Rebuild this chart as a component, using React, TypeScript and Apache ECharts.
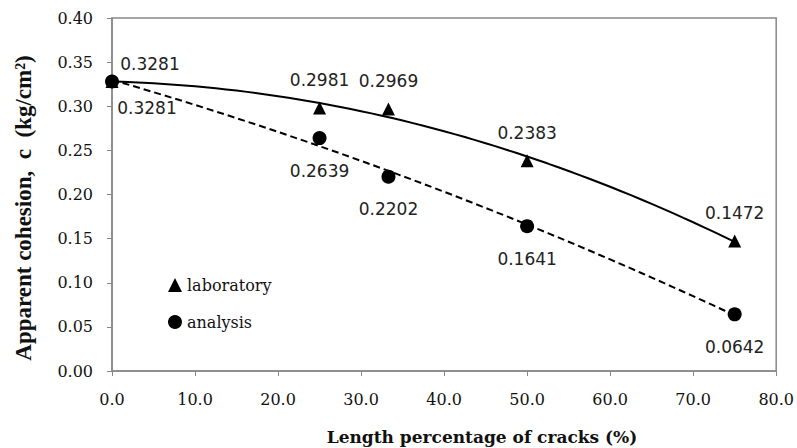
import React, { useEffect, useRef } from "react";
import * as echarts from "echarts";

const crackPct = [0, 25, 33.3, 50, 75];
const laboratory = [0.3281, 0.2981, 0.2969, 0.2383, 0.1472];
const analysis = [0.3281, 0.2639, 0.2202, 0.1641, 0.0642];
const xTicks = [0, 10, 20, 30, 40, 50, 60, 70, 80];
const yTicks = [0, 0.05, 0.1, 0.15, 0.2, 0.25, 0.3, 0.35, 0.4];
const labOffsets = [[38, 11], [0, 0], [0, 0], [0, 0], [0, 0]];
const anaOffsets = [[35, -6], [0, 0], [0, 0], [0, 0], [0, 0]];

// 2nd-order polynomial least-squares trendline (like a spreadsheet trendline)
function polyfit2(xs: number[], ys: number[]): number[] {
  const s = [0, 0, 0, 0, 0];
  const t = [0, 0, 0];
  xs.forEach((x, i) => {
    for (let k = 0; k < 5; k++) s[k] += Math.pow(x, k);
    for (let k = 0; k < 3; k++) t[k] += Math.pow(x, k) * ys[i];
  });
  const A = [
    [s[0], s[1], s[2], t[0]],
    [s[1], s[2], s[3], t[1]],
    [s[2], s[3], s[4], t[2]],
  ];
  for (let i = 0; i < 3; i++) {
    for (let j = i + 1; j < 3; j++) {
      const f = A[j][i] / A[i][i];
      for (let k = i; k < 4; k++) A[j][k] -= f * A[i][k];
    }
  }
  const c = [0, 0, 0];
  for (let i = 2; i >= 0; i--) {
    let v = A[i][3];
    for (let k = i + 1; k < 3; k++) v -= A[i][k] * c[k];
    c[i] = v / A[i][i];
  }
  return c;
}

function trend(xs: number[], ys: number[]): number[][] {
  const c = polyfit2(xs, ys);
  const x0 = xs[0];
  const x1 = xs[xs.length - 1];
  const pts: number[][] = [];
  const n = 60;
  for (let i = 0; i <= n; i++) {
    const x = x0 + ((x1 - x0) * i) / n;
    pts.push([x, c[0] + c[1] * x + c[2] * x * x]);
  }
  return pts;
}

export default function App() {
  const ref = useRef<HTMLDivElement>(null);
  useEffect(() => {
    const chart = echarts.init(ref.current!, null, { renderer: "svg" });
    const serif = "DejaVu Serif";
    const sans = "DejaVu Sans";
    const labelBase = {
      show: true,
      fontFamily: sans,
      fontSize: 17,
      color: "#222",
      formatter: (p: any) => p.value[1].toFixed(4),
    };
    chart.setOption({
      animation: false,
      backgroundColor: "#fff",
      grid: {
        left: 112,
        right: 19,
        top: 18,
        bottom: 77,
        show: true,
        borderColor: "#888",
        borderWidth: 1.5,
      },
      legend: {
        orient: "vertical",
        left: 163,
        top: 271,
        itemGap: 19,
        itemWidth: 14,
        itemHeight: 14,
        textStyle: { fontFamily: serif, fontSize: 16, color: "#111", lineHeight: 18 },
        data: [
          { name: "laboratory", icon: "triangle", itemStyle: { color: "#000", opacity: 1 } },
          { name: "analysis", icon: "circle", itemStyle: { color: "#000", opacity: 1 } },
        ],
      },
      graphic: [
        {
          type: "text",
          x: 23,
          y: 208,
          rotation: Math.PI / 2,
          style: {
            text: "Apparent cohesion,  c  (kg/cm\u00b2)",
            fontFamily: "Liberation Serif",
            fontWeight: "bold",
            fontSize: 23,
            fill: "#111",
            align: "center",
            verticalAlign: "middle",
          },
        },
        {
          type: "text",
          x: 482,
          y: 437,
          style: {
            text: "Length percentage of cracks (%)",
            fontFamily: serif,
            fontWeight: "bold",
            fontSize: 17,
            fill: "#111",
            align: "center",
            verticalAlign: "middle",
          },
        },
      ],
      xAxis: {
        type: "value",
        min: xTicks[0],
        max: xTicks[xTicks.length - 1],
        interval: xTicks[1] - xTicks[0],
        axisLine: { show: true, lineStyle: { color: "#888", width: 1.5 } },
        axisTick: { show: true, length: 5, lineStyle: { color: "#888" } },
        splitLine: { show: false },
        axisLabel: {
          fontFamily: serif,
          fontSize: 16,
          color: "#111",
          margin: 20,
          formatter: (v: number) => v.toFixed(1),
        },
      },
      yAxis: {
        type: "value",
        min: yTicks[0],
        max: yTicks[yTicks.length - 1],
        interval: yTicks[1] - yTicks[0],
        axisLine: { show: true, lineStyle: { color: "#888", width: 1.5 } },
        axisTick: { show: true, length: 5, lineStyle: { color: "#888" } },
        splitLine: { show: false },
        axisLabel: {
          fontFamily: serif,
          fontSize: 16,
          color: "#111",
          margin: 19,
          formatter: (v: number) => v.toFixed(2),
        },
      },
      series: [
        {
          name: "laboratory trend",
          type: "line",
          data: trend(crackPct, laboratory),
          showSymbol: false,
          silent: true,
          lineStyle: { color: "#000", width: 2, type: "solid" },
          z: 2,
        },
        {
          name: "analysis trend",
          type: "line",
          data: trend(crackPct, analysis),
          showSymbol: false,
          silent: true,
          lineStyle: { color: "#000", width: 2, type: [7, 4] },
          z: 2,
        },
        {
          name: "laboratory",
          type: "scatter",
          symbol: "triangle",
          symbolSize: 13,
          itemStyle: { color: "#000", opacity: 1 },
          label: { ...labelBase, position: "top", distance: 13 },
          data: crackPct.map((x, i) => ({
            value: [x, laboratory[i]],
            label: { offset: labOffsets[i] },
          })),
          z: 3,
        },
        {
          name: "analysis",
          type: "scatter",
          symbol: "circle",
          symbolSize: 14,
          itemStyle: { color: "#000", opacity: 1 },
          label: { ...labelBase, position: "bottom", distance: 17 },
          data: crackPct.map((x, i) => ({
            value: [x, analysis[i]],
            label: { offset: anaOffsets[i] },
          })),
          z: 4,
        },
      ],
    });
    return () => chart.dispose();
  }, []);
  return <div ref={ref} style={{ width: 797, height: 448, position: "absolute", left: 0, top: 0 }} />;
}
